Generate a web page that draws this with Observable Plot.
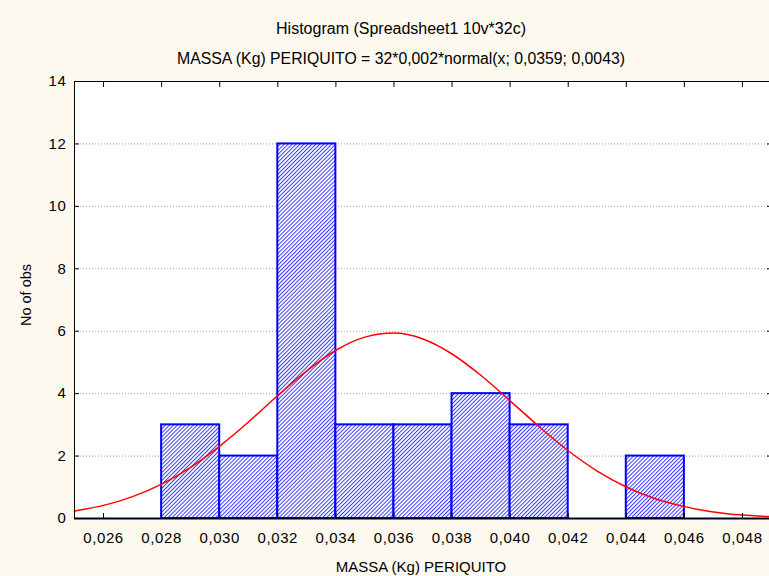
<!DOCTYPE html>
<html>
<head>
<meta charset="utf-8">
<script src="https://cdn.jsdelivr.net/npm/d3@7"></script>
<script src="https://cdn.jsdelivr.net/npm/@observablehq/plot@0.6"></script>
<style>
  html, body { margin: 0; padding: 0; background: #fdf9ef; overflow: hidden; }
</style>
</head>
<body>
<div id="chart"></div>
<script>
// ---- data ----
const binStart = [0.028, 0.030, 0.032, 0.034, 0.036, 0.038, 0.040, 0.042, 0.044];
const binEnd   = [0.030, 0.032, 0.034, 0.036, 0.038, 0.040, 0.042, 0.044, 0.046];
const counts   = [3, 2, 12, 3, 3, 4, 3, 0, 2];

// fitted normal curve
const curveX = [0.025, 0.026, 0.027, 0.028, 0.029, 0.030, 0.031, 0.032, 0.033, 0.034, 0.035, 0.036,
                0.037, 0.038, 0.039, 0.040, 0.041, 0.042, 0.043, 0.044, 0.045, 0.046, 0.047, 0.048, 0.049];
const curveY = [0.24, 0.42, 0.70, 1.10, 1.64, 2.32, 3.10, 3.94, 4.73, 5.39, 5.81, 5.94,
                5.75, 5.27, 4.58, 3.77, 2.94, 2.17, 1.52, 1.01, 0.63, 0.38, 0.21, 0.11, 0.06];

const xTicks = [0.026, 0.028, 0.030, 0.032, 0.034, 0.036, 0.038, 0.040, 0.042, 0.044, 0.046, 0.048];
const yTicks = [0, 2, 4, 6, 8, 10, 12, 14];
const gridTicks = [2, 4, 6, 8, 10, 12];

const titleText = "Histogram (Spreadsheet1 10v*32c)";
const subtitleText = "MASSA (Kg) PERIQUITO = 32*0,002*normal(x; 0,0359; 0,0043)";
const xLabel = "MASSA (Kg) PERIQUITO";
const yLabel = "No of obs";

const bins = binStart.map((s, i) => ({x1: s, x2: binEnd[i], y: counts[i]})).filter(d => d.y > 0);
const curve = curveX.map((x, i) => ({x, y: curveY[i]}));
const fmt = d => d3.format(".3f")(d).replace(".", ",");

const plot = Plot.plot({
  width: 769,
  height: 576,
  marginLeft: 74,
  marginRight: -2,
  marginTop: 81,
  marginBottom: 58,
  style: { background: "#fdf9ef", fontFamily: "'Liberation Sans', Arial, sans-serif", fontSize: "15px", color: "#000" },
  x: { domain: [0.025, 0.049] },
  y: { domain: [0, 14] },
  marks: [
    Plot.frame({ fill: "white", stroke: null }),
    Plot.gridY(gridTicks, { stroke: "#a0a0a0", strokeOpacity: 1, strokeDasharray: "1,2" }),
    Plot.rectY(bins, { x1: "x1", x2: "x2", y: "y", fill: "url(#hatch)", stroke: "#0000ff", strokeWidth: 2 }),
    Plot.line(curve, { x: "x", y: "y", stroke: "#ff0000", strokeWidth: 1.5, curve: "monotone-x" }),
    Plot.frame({ stroke: "#000", strokeWidth: 1 }),
    Plot.ruleY([0], { stroke: "#000022", strokeWidth: 2 }),
    Plot.axisX(xTicks, { anchor: "bottom", tickSize: -5, tickPadding: 19, tickFormat: fmt, label: null }),
    Plot.axisX(xTicks, { anchor: "top", tickSize: -5, tickFormat: () => "", label: null }),
    Plot.axisY(yTicks, { anchor: "left", tickSize: -5, tickPadding: 13, label: null }),
    Plot.axisY(yTicks, { anchor: "right", tickSize: -5, tickFormat: () => "", label: null })
  ]
});

const svg = d3.select(plot);
// tick label typography
svg.selectAll("text").style("font-size", "15px").style("letter-spacing", "0.6px");

// hatch pattern for the bars
const defs = svg.insert("defs", ":first-child");
const pat = defs.append("pattern")
  .attr("id", "hatch")
  .attr("patternUnits", "userSpaceOnUse")
  .attr("width", 2.8).attr("height", 2.8)
  .attr("patternTransform", "rotate(45)");
pat.append("rect").attr("width", 2.8).attr("height", 2.8).attr("fill", "#ffffff");
pat.append("line").attr("x1", 0.5).attr("y1", 0).attr("x2", 0.5).attr("y2", 2.8)
  .attr("stroke", "#3a3aff").attr("stroke-width", 1);

const font = "'Liberation Sans', Arial, sans-serif";
function addText(txt, x, y, size, rotate) {
  const t = svg.append("text")
    .attr("text-anchor", "middle")
    .attr("dominant-baseline", "middle")
    .style("font-family", font)
    .style("font-size", size + "px")
    .attr("fill", "#000")
    .text(txt);
  if (rotate) t.attr("transform", `translate(${x},${y}) rotate(-90)`);
  else t.attr("x", x).attr("y", y);
}
addText(titleText, 401, 30, 16);
addText(subtitleText, 401, 60, 15.8);
addText(xLabel, 421, 568, 15);
addText(yLabel, 27, 295, 14.5, true);

document.getElementById("chart").appendChild(plot);
</script>
</body>
</html>
